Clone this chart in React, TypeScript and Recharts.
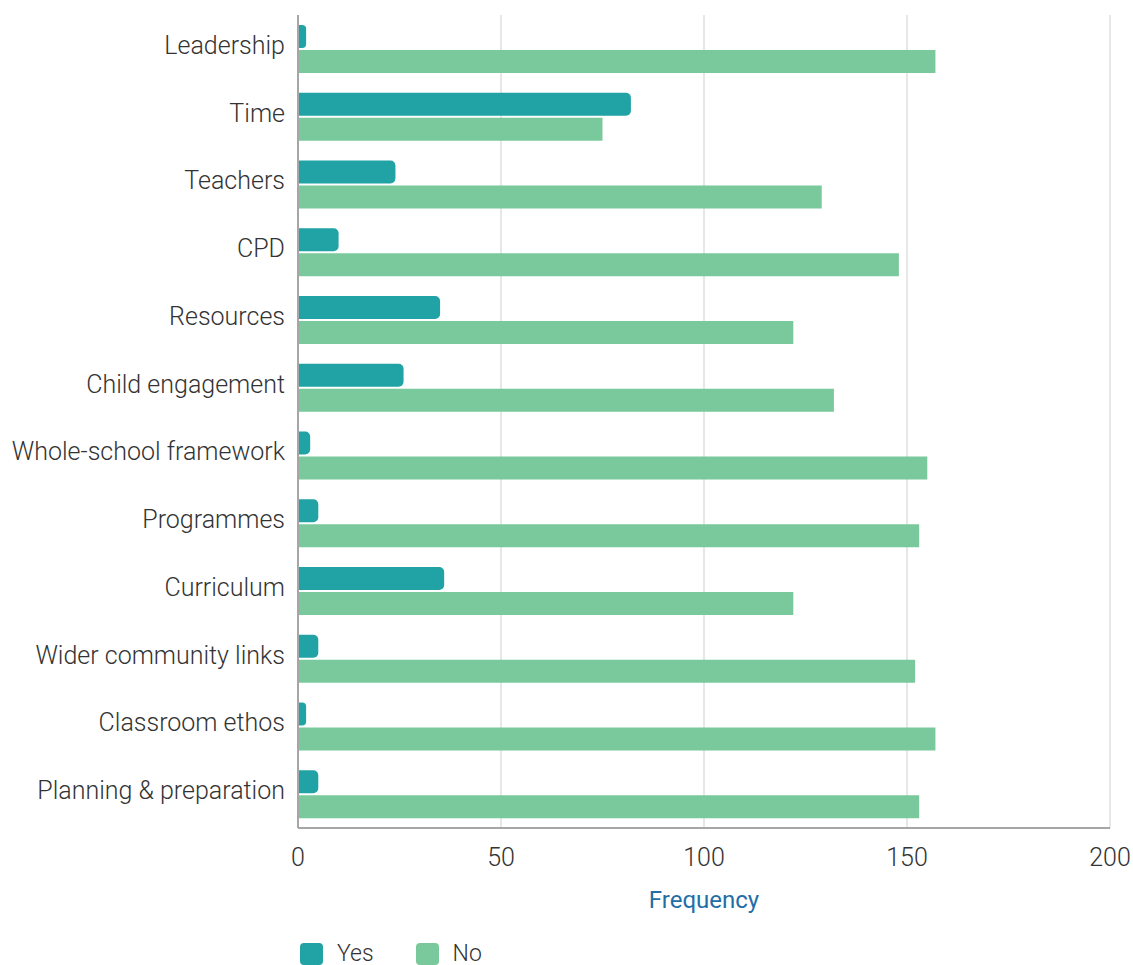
import { BarChart, Bar, XAxis, YAxis, CartesianGrid } from "recharts";

const categories = [
  "Leadership",
  "Time",
  "Teachers",
  "CPD",
  "Resources",
  "Child engagement",
  "Whole-school framework",
  "Programmes",
  "Curriculum",
  "Wider community links",
  "Classroom ethos",
  "Planning & preparation",
];
const yesValues = [2, 82, 24, 10, 35, 26, 3, 5, 36, 5, 2, 5];
const noValues = [157, 75, 129, 148, 122, 132, 155, 153, 122, 152, 157, 153];
const xTicks = [0, 50, 100, 150, 200];

const YES = "#21a3a6";
const NO = "#7ac99c";
const FONT = "Roboto, 'Noto Sans', sans-serif";

const data = categories.map((name, i) => ({ name, yes: yesValues[i], no: noValues[i] }));

// category label, nudged a bit above the band centre like the original
function CategoryTick(props: any) {
  const { x, y, payload } = props;
  return (
    <text x={x} y={y - 4} dy="0.355em" textAnchor="end" fill="#333" fontSize={25} fontWeight={300} fontFamily={FONT}>
      {payload.value}
    </text>
  );
}

export default function App() {
  return (
    <div style={{ position: "absolute", left: 0, top: 0, width: 1133, height: 965, background: "#fff", fontFamily: FONT }}>
      <BarChart
        width={1133}
        height={965}
        data={data}
        layout="vertical"
        margin={{ top: 15, right: 23, bottom: 57, left: 0 }}
        barSize={23}
        barGap={2}
      >
        <CartesianGrid horizontal={false} stroke="#cfcfcf" strokeWidth={1} />
        <XAxis
          type="number"
          domain={[0, 200]}
          ticks={xTicks}
          tickLine={false}
          axisLine={{ stroke: "#a6a6a6", strokeWidth: 2 }}
          tickMargin={20}
          tickSize={0}
          height={80}
          tick={{ fill: "#333", fontSize: 25, fontWeight: 300, fontFamily: FONT }}
          label={{ value: "Frequency", position: "insideBottom", offset: 0, fill: "#1f6ea8", fontSize: 24, fontFamily: FONT }}
        />
        <YAxis
          type="category"
          dataKey="name"
          width={298}
          tickLine={false}
          tickSize={0}
          tickMargin={13}
          axisLine={{ stroke: "#a6a6a6", strokeWidth: 2 }}
          interval={0}
          tick={<CategoryTick />}
        />
        <Bar dataKey="yes" name="Yes" fill={YES} radius={[0, 5, 5, 0]} isAnimationActive={false} />
        <Bar dataKey="no" name="No" fill={NO} isAnimationActive={false} />
      </BarChart>
      <div style={{ position: "absolute", left: 300, top: 943, display: "flex", alignItems: "center", fontSize: 23, lineHeight: "22px", fontWeight: 300, color: "#333" }}>
        <span style={{ width: 23, height: 22, borderRadius: 4, background: YES, display: "inline-block", marginRight: 14 }} />
        <span style={{ marginRight: 42 }}>Yes</span>
        <span style={{ width: 23, height: 22, borderRadius: 4, background: NO, display: "inline-block", marginRight: 14 }} />
        <span>No</span>
      </div>
    </div>
  );
}
